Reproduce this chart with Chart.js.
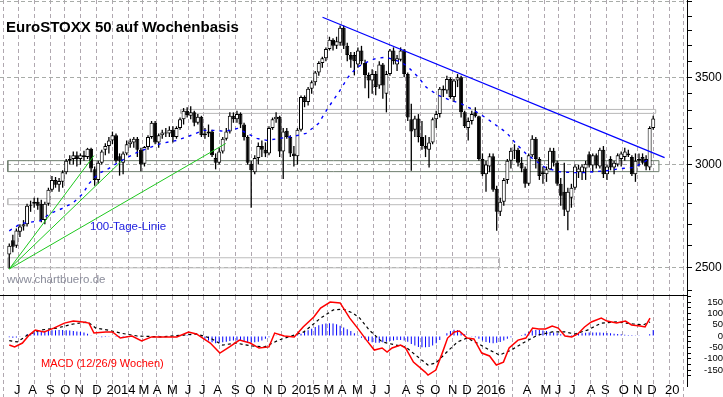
<!DOCTYPE html>
<html>
<head>
<meta charset="utf-8">
<script src="https://cdn.jsdelivr.net/npm/chart.js@4.4.0/dist/chart.umd.min.js"></script>
<style>
body { margin: 0; background: #fff; }
#wrap { position: relative; width: 723px; height: 397px; overflow: hidden; }
#priceChart { position: absolute; left: 0; top: 0; width: 723px; height: 296px; }
#macdChart { position: absolute; left: 0; top: 296px; width: 723px; height: 101px; }
</style>
</head>
<body>
<div id="wrap">
<canvas id="priceChart" width="723" height="296"></canvas>
<canvas id="macdChart" width="723" height="101"></canvas>
</div>
<script>
// Wochenkerzen ab KW 26/2013 (Index 0 = Woche ab 24.06.2013)
var weekOpen = [2560,2625,2600,2665,2690,2700,2790,2800,2810,2800,
2720,2800,2870,2920,2895,2910,2960,3020,3030,3050,
3030,3050,3040,3085,2975,2920,3010,3080,3100,3130,
3160,3045,3010,3060,3110,3120,3140,3080,3005,3095,
3150,3230,3120,3160,3175,3170,3190,3150,3200,3250,
3300,3270,3290,3230,3265,3160,3170,3180,3035,3010,
3070,3140,3180,3270,3250,3280,3220,3150,3005,2960,
3035,3100,3080,3060,3200,3250,3265,3070,3185,3150,
3060,3045,3190,3380,3350,3430,3470,3530,3590,3620,
3680,3740,3700,3720,3820,3700,3640,3640,3580,3670,
3590,3515,3480,3520,3450,3580,3400,3520,3670,3580,
3610,3670,3520,3250,3190,3255,3150,3100,3080,3120,
3250,3280,3430,3420,3490,3380,3480,3500,3290,3200,
3240,3290,3268,3030,2950,2990,3045,2875,2760,2810,
2920,3020,3075,3080,3010,2980,2900,3050,3140,3030,
2950,2950,2975,3075,3010,2900,2860,2760,2830,2880,
2960,2960,2980,3055,2995,3050,2990,3080,2950,3030,
2985,3000,3030,3040,3060,3040,2950,3020,3040,3030,
2985,3200];
var weekHigh = [2610,2650,2680,2700,2720,2800,2815,2830,2830,2820,
2810,2880,2940,2935,2930,2970,3030,3050,3070,3070,
3060,3075,3090,3090,2990,3020,3080,3115,3150,3180,
3170,3060,3070,3130,3140,3150,3150,3090,3100,3160,
3240,3240,3170,3190,3200,3210,3210,3210,3260,3315,
3320,3325,3300,3280,3270,3200,3220,3190,3060,3090,
3150,3200,3290,3290,3300,3290,3230,3160,3020,3050,
3120,3130,3120,3210,3260,3290,3270,3200,3200,3160,
3100,3200,3390,3390,3440,3480,3540,3600,3630,3690,
3760,3750,3760,3836,3836,3720,3660,3660,3690,3700,
3610,3530,3550,3540,3600,3590,3540,3680,3690,3640,
3690,3680,3530,3340,3270,3280,3240,3160,3150,3260,
3300,3440,3450,3510,3500,3490,3520,3510,3300,3260,
3300,3320,3270,3060,3020,3060,3060,2890,2830,2930,
3030,3090,3110,3090,3040,2990,3060,3160,3150,3040,
2990,2990,3090,3090,3020,2930,3010,2880,2900,3000,
3000,3000,3020,3070,3060,3060,3090,3100,3000,3045,
3020,3060,3070,3090,3080,3050,3060,3060,3060,3050,
3210,3270];
var weekLow = [2495,2570,2590,2640,2670,2690,2760,2780,2770,2710,
2700,2790,2860,2880,2860,2880,2950,3000,3000,2990,
3000,3020,3030,2960,2890,2900,3000,3050,3060,3110,
3010,2942,2950,3050,3090,3090,3040,2965,2990,3080,
3140,3110,3090,3140,3150,3150,3120,3140,3190,3220,
3260,3250,3210,3220,3150,3140,3150,3040,2975,3000,
3060,3130,3170,3230,3230,3200,3130,3000,2780,2950,
3000,3040,3040,3050,3190,3230,3040,2925,3140,3040,
2990,3000,3180,3320,3330,3400,3450,3510,3560,3600,
3670,3670,3680,3700,3680,3600,3560,3512,3560,3580,
3433,3373,3400,3391,3430,3370,3290,3510,3580,3540,
3600,3500,3240,2968,3150,3120,3080,3040,2985,3110,
3200,3260,3380,3400,3370,3350,3440,3260,3200,3130,
3220,3260,3020,2940,2860,2960,2860,2669,2740,2790,
2900,2980,3030,2990,2960,2880,2890,3040,2980,2920,
2900,2910,2970,2990,2890,2790,2740,2672,2780,2870,
2930,2920,2920,2985,2960,2980,2980,2930,2920,2970,
2950,2990,2990,3020,3040,2940,2910,2990,3000,2970,
2970,3190];
var weekClose = [2600,2595,2670,2690,2700,2790,2795,2810,2790,2720,
2800,2870,2920,2895,2915,2960,3020,3030,3050,3030,
3050,3040,3085,2980,2920,3010,3070,3100,3130,3160,
3020,3020,3060,3110,3125,3140,3080,3000,3095,3150,
3230,3120,3160,3175,3170,3190,3150,3200,3250,3300,
3275,3290,3230,3265,3160,3170,3180,3050,3010,3070,
3140,3180,3270,3250,3280,3220,3150,3010,2970,3035,
3100,3080,3060,3200,3250,3265,3070,3180,3150,3060,
3045,3190,3380,3350,3430,3470,3530,3590,3620,3680,
3740,3700,3730,3820,3700,3640,3610,3600,3670,3600,
3515,3480,3520,3440,3580,3450,3520,3670,3600,3620,
3670,3520,3260,3180,3255,3150,3100,3085,3120,3250,
3280,3430,3420,3490,3380,3480,3500,3290,3210,3240,
3280,3268,3030,2950,3000,3045,2870,2760,2810,2920,
3020,3075,3080,3010,2980,2900,3050,3140,3030,2940,
2960,2975,3075,3010,2900,2840,2770,2860,2880,2990,
2980,2990,3005,2995,3050,2995,3080,2950,2990,2985,
3010,3050,3060,3070,3050,2950,3020,3030,3010,2990,
3200,3255];

// 100-Tage-Linie (Wochenindex / Punkte)
var maWeeks = [0,3.2,8.7,11.4,14.7,18,20.7,22.4,25.1,27.9,30.6,32.6,35.9,38.9,42.7,47.1,51.8,54.5,58.1,60.6,
64.2,66.9,69.6,72.4,76,79.8,83.4,86.9,89.7,93,95.2,97.7,100.4,103.2,105.9,108.7,110.3,112.2,115,117.2,
120.5,124,126.8,129.5,131.5,134.2,136.9,139.7,142.4,145.2,147.9,150.7,154.3,158.1,161.7,164.4,168,171.8,175.4,178.2,180.4];
var maValues = [2669,2703,2717,2751,2775,2805,2850,2901,2953,2979,3011,3032,3065,3087,3114,3131,3164,3187,3187,3181,
3198,3170,3142,3131,3142,3153,3170,3226,3319,3421,3500,3562,3594,3620,3626,3606,3594,3562,3500,3439,
3391,3361,3343,3314,3290,3255,3215,3176,3114,3059,3021,2984,2963,2958,2958,2963,2968,2979,2984,3011,3037];

// MACD (12/26/9) und Signallinie
var macdWeeks = [0,1.5,3.7,5.6,7.3,9.8,12.5,15.5,18,20.7,22.4,23.8,27.1,29,31.2,34.5,37.2,40,42.7,47.1,
50.4,52.6,56.5,59.2,61.9,64.7,67.7,70.2,73,74.6,77.3,80.1,82.6,85.6,87.5,90.2,93,95.7,97.9,100.4,
102.6,104.8,106.2,107.6,110,111.4,113.6,116.9,117.7,119.9,121.8,123.2,125.1,126.5,128.7,130.6,132.8,135,136.9,138.9,
140.5,143,145.2,147.1,148.8,150.7,152.6,154.3,156.2,158.1,159.8,161.7,163.6,166.4,168,170.7,173.2,174.9,177.3,178.7,180.1];
var macdValues = [-40,-48,-31,4,26,18,35,57,66,62,57,13,18,18,-9,0,-22,-4,-4,-4,
18,9,-31,-75,-48,-18,-31,-53,-48,13,0,-4,40,84,123,150,146,79,35,-18,
-62,-53,-71,-53,-40,-53,-115,-159,-172,-150,-71,-9,18,22,-9,-13,-75,-88,-128,-115,
-53,-18,-9,35,31,31,44,35,0,-4,9,40,62,79,66,57,66,49,44,40,79];
var signalWeeks = [0,2.3,5.1,8.7,13.3,18,22.1,24.3,27.9,31.2,36.1,42.7,49,52.6,56.5,60,63.6,68.3,71.8,75.7,79.3,
82.8,87.5,91.1,93.8,96.6,98.5,101.2,104.8,108.7,111.4,114.2,117.7,119.9,122.7,126,128.7,131.5,135,137.8,141.1,
144.4,148.5,152.6,156.2,158.9,162.5,166.4,170.7,175.4,178.2,180.1];
var signalValues = [-20,-26,4,26,35,53,62,35,26,13,0,-4,4,9,-9,-40,-31,-44,-48,-18,0,
18,79,115,119,101,79,26,-26,-40,-48,-84,-128,-119,-75,-26,-9,-31,-62,-84,-62,
-31,4,18,18,9,26,57,62,53,49,62];
var histValues = [-5,-8,-6,-3,
2,8,12,15,18,
20,22,24,25,25,26,26,25,24,22,20,18,15,10,
3,0,-3,-5,-4,-3,-2,-4,
-5,-6,-4,-3,-2,-1,-3,-2,-1,0,0,1,0,-1,0,
0,1,2,3,4,3,2,0,
-5,-12,-20,-28,-32,-30,-28,-25,-22,-20,-20,-22,-25,-28,-30,-28,-25,-20,-12,-5,
2,3,1,-1,-2,-3,-1,
5,10,18,25,32,40,47,52,55,56,55,52,45,38,30,22,12,4,
-8,-15,-22,-28,-30,-30,-28,-25,-22,-20,-18,-18,-20,-25,
-35,-42,-48,-50,-50,-48,-42,-32,-18,
2,12,22,28,26,18,
8,0,-3,-5,
-12,-20,-26,-30,-32,-30,-26,-20,-12,-5,
-2,2,5,10,
18,24,27,26,24,22,18,15,12,8,5,
3,5,8,10,12,14,15,16,16,15,14,13,12,10,9,8,6,5,4,3,3,2,2,
8,26];

// Trendlinien und Zonen (Wochenindex / Kurs)
var trendWeeks = [88.05, 184.2];
var trendValues = [3892, 3037];
var fanWeeks = [[0, 23.8], [0, 32], [0, 60.85]];
var fanValues = [[2495, 3048], [2495, 3027], [2495, 3114]];
var zoneWeeks = [[48.2, 181.7], [-0.41, 182.6], [-0.41, 158.7], [-0.41, 137.8]];
var zoneValues = [[3284, 3307], [2963, 3021], [2795, 2825], [2500, 2545]];
var zoneColors = ['#b8b8b8', '#6e7e6e', '#bcbcbc', '#bcbcbc'];

// Achsen
var priceTicks = [2400,2500,2600,2700,2800,2900,3000,3100,3200,3300,3400,3500,3600,3700,3800,3900,4000];
var priceLabels = [2500, 3000, 3500];
var macdTicks = [-175,-150,-125,-100,-75,-50,-25,0,25,50,75,100,125,150,175];
var monthLabels = ['J','A','S','O','N','D','2014','','M','A','M','J','J','A','S','O','N','D',
'2015','','M','A','M','J','J','A','S','O','N','D',
'2016','','','A','M','J','J','A','S','O','N','D','20',''];

var xMin = -0.41, xMax = 188.3;

// Monatsgrenzen: erste Woche, deren Freitag im neuen Monat liegt
var monthStarts = [];
for (var w = 1; w <= 188; w++) {
    var a = new Date(2013, 5, 28 + 7 * (w - 1));
    var b = new Date(2013, 5, 28 + 7 * w);
    if (a.getMonth() !== b.getMonth()) monthStarts.push(w - 0.5);
}

Chart.defaults.font.family = '"Liberation Sans", Arial, sans-serif';
Chart.defaults.color = '#000';

var wickData = [], bodyData = [], bodyFill = [];
for (var i = 0; i < weekClose.length; i++) {
    wickData.push({x: i, y: [weekLow[i], weekHigh[i]]});
    bodyData.push({x: i, y: [Math.min(weekOpen[i], weekClose[i]), Math.max(weekOpen[i], weekClose[i])]});
    bodyFill.push(weekClose[i] >= weekOpen[i] ? '#ffffff' : '#000000');
}

function pairs(xs, ys) {
    var out = [];
    for (var k = 0; k < xs.length; k++) out.push({x: xs[k], y: ys[k]});
    return out;
}

function lineSet(data, color, width, dash, order) {
    return {
        type: 'line', data: data, borderColor: color, borderWidth: width,
        borderDash: dash || [], pointRadius: 0, tension: 0, fill: false,
        order: order, yAxisID: 'y'
    };
}

function textPlugin(items) {
    return {
        id: 'notes',
        afterDatasetsDraw: function(chart) {
            var c = chart.ctx;
            c.save();
            c.textBaseline = 'alphabetic';
            c.textAlign = 'left';
            items.forEach(function(t) {
                c.font = t.font;
                c.fillStyle = t.color;
                c.fillText(t.text, t.x, t.y);
            });
            // Kursachse laeuft bis in die Beschriftungszeile
            if (chart.canvas.id === 'macdChart') {
                c.strokeStyle = '#000';
                c.lineWidth = 1;
                c.beginPath();
                c.moveTo(chart.chartArea.right + 0.5, chart.chartArea.bottom);
                c.lineTo(chart.chartArea.right + 0.5, chart.chartArea.bottom + 7);
                c.stroke();
            }
            c.restore();
        }
    };
}

var priceSets = [];
priceSets.push(lineSet(pairs(maWeeks, maValues), '#0000ff', 1.4, [3, 5], 0));
priceSets.push(lineSet(pairs(trendWeeks, trendValues), '#0000ff', 1.2, null, 0));
for (var f = 0; f < fanWeeks.length; f++) {
    priceSets.push(lineSet(pairs(fanWeeks[f], fanValues[f]), '#1ec81e', 1, null, 0));
}
for (var z = 0; z < zoneWeeks.length; z++) {
    var zx = zoneWeeks[z], zy = zoneValues[z];
    priceSets.push(lineSet([{x: zx[0], y: zy[0]}, {x: zx[1], y: zy[0]}, {x: zx[1], y: zy[1]},
        {x: zx[0], y: zy[1]}, {x: zx[0], y: zy[0]}], zoneColors[z], 1, null, 3));
}
priceSets.push({
    type: 'bar', data: bodyData, backgroundColor: bodyFill, borderColor: '#000',
    borderWidth: 1, borderSkipped: false, barThickness: 4, grouped: false,
    inflateAmount: 0, order: 1, yAxisID: 'y'
});
priceSets.push({
    type: 'bar', data: wickData, backgroundColor: '#000', borderWidth: 0,
    barThickness: 1.3, grouped: false, inflateAmount: 0, order: 2, yAxisID: 'y'
});

var gridGray = '#b0a8b0';

new Chart(document.getElementById('priceChart'), {
    type: 'bar',
    data: { datasets: priceSets },
    options: {
        responsive: false, animation: false, events: [],
        layout: { padding: 0 },
        plugins: { legend: { display: false }, tooltip: { enabled: false } },
        scales: {
            x: {
                type: 'linear', min: xMin, max: xMax, bounds: 'data',
                afterBuildTicks: function(s) { s.ticks = monthStarts.map(function(v) { return {value: v}; }); },
                afterFit: function(s) { s.height = 1; s.paddingLeft = 0; s.paddingRight = 0; },
                ticks: { display: false },
                grid: { color: gridGray, lineWidth: 1, drawTicks: false },
                border: { display: true, color: '#000', width: 1, dash: [4, 3] }
            },
            y: {
                type: 'logarithmic', position: 'right', min: 2383, max: 4012, bounds: 'data',
                afterBuildTicks: function(s) { s.ticks = priceTicks.map(function(v) { return {value: v}; }); },
                afterFit: function(s) { s.width = 36; s.paddingTop = 0; s.paddingBottom = 0; },
                ticks: {
                    autoSkip: false, padding: 3, color: '#000',
                    font: { size: 12 },
                    callback: function(v) { return priceLabels.indexOf(v) >= 0 ? String(v) : ''; }
                },
                grid: {
                    color: function(ctx) {
                        var v = ctx.tick ? ctx.tick.value : null;
                        return (priceLabels.indexOf(v) >= 0 || v === 4000) ? '#a8aca8' : 'rgba(0,0,0,0)';
                    },
                    tickColor: '#000', tickLength: 5, lineWidth: 1
                },
                border: { display: true, color: '#000', width: 1, dash: [4, 3] }
            }
        }
    },
    plugins: [textPlugin([
        { text: 'EuroSTOXX 50 auf Wochenbasis', x: 6, y: 32, font: 'bold 15px "Liberation Sans", Arial, sans-serif', color: '#000' },
        { text: '100-Tage-Linie', x: 90, y: 230, font: '11.5px "Liberation Sans", Arial, sans-serif', color: '#2020e0' },
        { text: 'www.chartbuero.de', x: 7, y: 283, font: '11.5px "Liberation Sans", Arial, sans-serif', color: '#8a8c9a' }
    ])]
});

var histData = [];
for (var h = 0; h < histValues.length; h++) histData.push({x: h, y: histValues[h]});

new Chart(document.getElementById('macdChart'), {
    type: 'bar',
    data: {
        datasets: [
            lineSet(pairs(macdWeeks, macdValues), '#ff0000', 1.5, null, 0),
            lineSet(pairs(signalWeeks, signalValues), '#000000', 1.2, [3, 3], 1),
            { type: 'bar', data: histData, backgroundColor: '#0000ff', borderWidth: 0,
              barThickness: 1, grouped: false, inflateAmount: 0, order: 2, yAxisID: 'y' }
        ]
    },
    options: {
        responsive: false, animation: false, events: [],
        layout: { padding: 0 },
        plugins: { legend: { display: false }, tooltip: { enabled: false } },
        scales: {
            x: {
                type: 'linear', min: xMin, max: xMax, bounds: 'data',
                afterBuildTicks: function(s) { s.ticks = monthStarts.map(function(v) { return {value: v}; }); },
                afterFit: function(s) { s.height = 17; s.paddingLeft = 0; s.paddingRight = 0; },
                ticks: {
                    autoSkip: false, maxRotation: 0, minRotation: 0, align: 'start',
                    labelOffset: 3, padding: -14, color: '#000', font: { size: 13 },
                    callback: function(v, idx) { return monthLabels[idx] || ''; }
                },
                grid: { color: gridGray, lineWidth: 1, drawTicks: true, tickLength: 17,
                        tickColor: gridGray, tickBorderDash: [4, 3] },
                border: { display: false, dash: [4, 3] }
            },
            y: {
                type: 'linear', position: 'right', min: -194, max: 176.5, bounds: 'data',
                afterBuildTicks: function(s) { s.ticks = macdTicks.map(function(v) { return {value: v}; }); },
                afterFit: function(s) { s.width = 36; s.paddingTop = 0; s.paddingBottom = 0; },
                ticks: {
                    autoSkip: false, padding: 9, crossAlign: 'far', color: '#000',
                    font: { size: 9.5 },
                    callback: function(v) { return v % 50 === 0 ? String(v) : ''; }
                },
                grid: { drawOnChartArea: false, tickColor: '#000', tickLength: 4 },
                border: { display: true, color: '#000', width: 1 }
            }
        }
    },
    plugins: [textPlugin([
        { text: 'MACD (12/26/9 Wochen)', x: 41, y: 71, font: '11px "Liberation Sans", Arial, sans-serif', color: '#ff0000' }
    ])]
});
</script>
</body>
</html>
